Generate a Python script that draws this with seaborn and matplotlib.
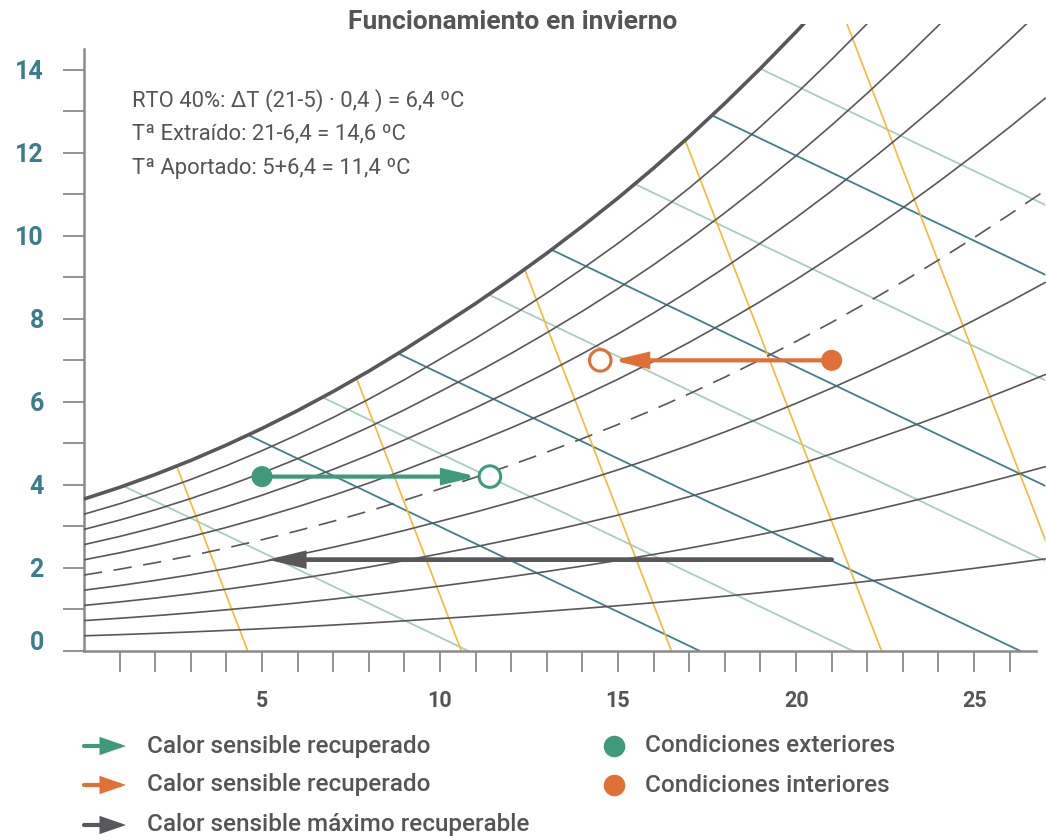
import numpy as np
import pandas as pd
import matplotlib
matplotlib.use("Agg")
import matplotlib.pyplot as plt
import seaborn as sns
from matplotlib.patches import Polygon
from matplotlib.transforms import ScaledTranslation

# saturation humidity (g/kg) at each whole degree
temps = list(range(0, 28))
sat_w = [3.66, 3.94, 4.25, 4.59, 4.96, 5.36, 5.79, 6.25, 6.74, 7.26,
         7.81, 8.37, 8.96, 9.58, 10.23, 10.91, 11.63, 12.39, 13.19, 14.03,
         14.91, 15.83, 16.79, 17.79, 18.83, 19.91, 21.03, 22.19]

# relative humidity curves, 50 % is dashed
rh_levels = [0.1, 0.2, 0.3, 0.4, 0.5, 0.6, 0.7, 0.8, 0.9]
rh_dashed = 0.5

# enthalpy lines (dry bulb where they reach w = 0) and their slope
enth_t0 = [10.8, 17.3, 21.6, 26.3, 32.3, 36.7, 42.9, 49.1, 53.2]
enth_slope = 0.41
# specific volume lines
vol_t0 = [4.6, 10.6, 16.5, 22.4, 28.2]
vol_slope = 2.23

# process points
outdoor = (5.0, 4.2)
supply = (11.4, 4.2)
indoor = (21.0, 7.0)
extract = (14.5, 7.0)
max_start = (21.0, 2.2)
max_end = (5.0, 2.2)

x_major = [5, 10, 15, 20, 25]
y_major = [0, 2, 4, 6, 8, 10, 12, 14]

notes = ["RTO 40%: \u0394T (21-5) \u00b7 0,4 ) = 6,4 \u00baC",
         "T\u00aa Extra\u00eddo: 21-6,4 = 14,6 \u00baC",
         "T\u00aa Aportado: 5+6,4 = 11,4 \u00baC"]
title = "Funcionamiento en invierno"
legend_arrows = ["Calor sensible recuperado", "Calor sensible recuperado",
                 "Calor sensible m\u00e1ximo recuperable"]
legend_dots = ["Condiciones exteriores", "Condiciones interiores"]

GREEN = "#3f9a7b"
ORANGE = "#e07035"
DARK = "#58585a"
TEAL = "#3a7d8c"
TEAL_LINE = "#3f7f8e"
LIGHT = "#a6cfbd"
YELLOW = "#f8b935"
AXIS = "#8a8a8a"
TEXT = "#555555"

sns.set_theme(style="white")
plt.rcParams["font.family"] = ["Roboto", "DejaVu Sans"]

W, H = 1046, 840
fig = plt.figure(figsize=(W / 100, H / 100), dpi=100)
ax = fig.add_axes([84 / W, 189 / H, 962 / W, 627 / H])
ax.set_xlim(0, 27.02)
ax.set_ylim(0, 15.1)

T = np.array(temps, dtype=float)
S = np.array(sat_w)

# region under the saturation curve, used to clip the straight lines
region = Polygon(np.column_stack([np.r_[T, T[-1], T[0]], np.r_[S, 0, 0]]),
                 closed=True, facecolor="none", edgecolor="none")
ax.add_patch(region)

rh_df = pd.DataFrame({
    "T": np.tile(T, len(rh_levels)),
    "w": np.concatenate([S * r for r in rh_levels]),
    "rh": np.repeat(rh_levels, len(T)),
})
for r, grp in rh_df.groupby("rh"):
    sns.lineplot(data=grp, x="T", y="w", ax=ax, color=DARK, lw=1.2,
                 estimator=None, sort=False, zorder=3)
    if np.isclose(r, rh_dashed):
        ax.lines[-1].set_dashes([11, 7])

sns.lineplot(x=T, y=S, ax=ax, color=DARK, lw=2.6, estimator=None,
             sort=False, zorder=4)

for i, t0 in enumerate(enth_t0):
    xs = np.array([0, t0])
    ys = enth_slope * (t0 - xs)
    ln, = ax.plot(xs, ys, color=LIGHT if i % 2 == 0 else TEAL_LINE,
                  lw=1.3, zorder=2)
    ln.set_clip_path(region)

for t0 in vol_t0:
    xs = np.array([0, t0])
    ys = vol_slope * (t0 - xs)
    ln, = ax.plot(xs, ys, color=YELLOW, lw=1.2, zorder=2)
    ln.set_clip_path(region)


def arrow(start, end, color, lw, shrink, coords="data", hl=1.9, hw=0.45):
    ax.annotate("", xy=end, xytext=start, xycoords=coords, textcoords=coords,
                annotation_clip=False,
                arrowprops=dict(arrowstyle=f"-|>,head_length={hl},head_width={hw}",
                                mutation_scale=10, lw=lw, color=color,
                                shrinkA=0, shrinkB=shrink, joinstyle="miter"),
                zorder=6)


# process arrows
arrow(outdoor, supply, GREEN, 3.0, 9)
arrow(indoor, extract, ORANGE, 3.0, 9)
arrow(max_start, max_end, DARK, 3.4, 4)

pts = pd.DataFrame({"T": [outdoor[0], indoor[0]], "w": [outdoor[1], indoor[1]],
                    "kind": ["ext", "int"]})
sns.scatterplot(data=pts, x="T", y="w", hue="kind",
                palette={"ext": GREEN, "int": ORANGE}, s=230,
                edgecolor="none", legend=False, ax=ax, zorder=7)
ax.scatter([supply[0], extract[0]], [supply[1], extract[1]], s=240,
           facecolor="white", edgecolor=[GREEN, ORANGE], lw=2.2, zorder=7)

# axes styling
for side in ["top", "right"]:
    ax.spines[side].set_visible(False)
for side in ["left", "bottom"]:
    ax.spines[side].set_color(AXIS)
    ax.spines[side].set_linewidth(1.8)
ax.spines["left"].set_bounds(0, 14.5)
ax.spines["bottom"].set_bounds(0, 26.75)

ax.set_xticks(x_major)
ax.set_xticks([t for t in range(1, 27) if t not in x_major], minor=True)
ax.set_yticks(y_major)
ax.set_yticks([v for v in range(1, 15) if v not in y_major], minor=True)
ax.tick_params(which="both", direction="out", length=15, width=1.3,
               color=AXIS, bottom=True, left=True)
ax.tick_params(axis="x", which="major", pad=13, labelsize=15.5, labelcolor=TEXT)
ax.tick_params(axis="y", which="major", pad=14, labelsize=18, labelcolor=TEAL)
for lab in ax.get_xticklabels() + ax.get_yticklabels():
    lab.set_fontweight("bold")
ax.set_xlabel("")
ax.set_ylabel("")
ylabs = ax.get_yticklabels()
ylabs[0].set_transform(ylabs[0].get_transform() +
                       ScaledTranslation(0, 0.11, fig.dpi_scale_trans))

for txt, wv in zip(notes, [13.25, 12.45, 11.62]):
    ax.text(1.35, wv, txt, fontsize=15.8, color=TEXT, va="center", ha="left")

fig.text(513 / W, 1 - 22 / H, title, ha="center", va="center",
         fontsize=19, fontweight="bold", color=TEXT)

# legend
rows = [746, 785, 825]
for txt, col, y in zip(legend_arrows, [GREEN, ORANGE, DARK], rows):
    yf = 1 - y / H
    arrow((84 / W, yf), (126 / W, yf), col, 3.0, 0, coords="figure fraction",
          hl=1.3, hw=0.45)
    fig.text(147 / W, yf, txt, ha="left", va="center", fontsize=17.5,
             fontweight="medium", color=TEXT)
for txt, col, y in zip(legend_dots, [GREEN, ORANGE], rows[:2]):
    yf = 1 - y / H
    fig.add_artist(matplotlib.lines.Line2D([614 / W], [yf], marker="o",
                                           markersize=15.5, color=col,
                                           markeredgewidth=0,
                                           transform=fig.transFigure))
    fig.text(645 / W, yf, txt, ha="left", va="center", fontsize=17.5,
             fontweight="medium", color=TEXT)

fig.savefig("out.png", dpi=100)
